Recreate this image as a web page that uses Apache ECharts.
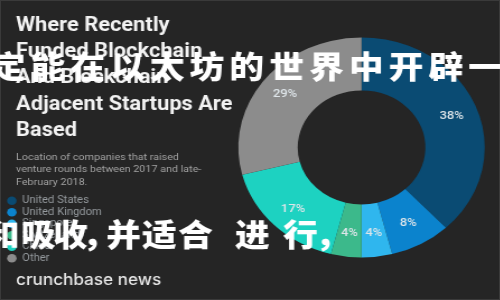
<!DOCTYPE html>
<html>
<head>
<meta charset="utf-8">
<script src="https://cdn.jsdelivr.net/npm/echarts@6/dist/echarts.min.js"></script>
<style>
html,body{margin:0;padding:0;background:#252525;}
#wrap{position:relative;width:500px;height:300px;overflow:hidden;background:#252525;box-shadow:inset 0 0 0 1px #3a3a3a;}
#c{position:absolute;left:0;top:0;width:446.43px;height:300px;transform:scaleX(1.12);transform-origin:0 0;}
</style>
</head>
<body>
<div id="wrap"><div id="c"></div></div>
<script>
var categories = ['United States', 'United Kingdom', 'Singapore', 'Switzerland', 'China', 'Other'];
var shares = [38, 8, 4, 4, 17, 29];
var colors = ['#0a4b73', '#0b83cd', '#2fb6ee', '#3cb98b', '#1dd2c1', '#8c8c8c'];
var titleLines = ['Where Recently', 'Funded Blockchain', 'And Blockchain', 'Adjacent Startups Are', 'Based'];
var subtitleLines = ['Location of companies that raised', 'venture rounds between 2017 and late-', 'February 2018.'];
var brand = 'crunchbase news';
var watermark1 = '定能在以太坊的世界中开辟一';
var watermark2 = ['和', '吸', '收', '，', '并', '适', '合', '进', '行', '，'];

var S = 1.12;
var wm2Left = [-15, 21, 53, 82, 106, 142, 178, 235, 283, 315];

var graphics = [];
graphics.push({
  type: 'text', left: 14.3, top: 13, z: 10,
  style: { text: titleLines.join('\n'), fill: '#f2f2f2', font: 'bold 19.5px Roboto, "Liberation Sans", sans-serif', lineHeight: 26.2 }
});
graphics.push({
  type: 'text', left: 14.3, top: 151, z: 10,
  style: { text: subtitleLines.join('\n'), fill: '#a3a3a3', font: '9.6px Roboto, "Liberation Sans", sans-serif', lineHeight: 12.6 }
});
graphics.push({
  type: 'text', left: 14.3, top: 270.5, z: 10,
  style: { text: brand, fill: '#e8e8e8', font: '500 15.3px Inter, sans-serif', lineHeight: 20 }
});
for (var i = 0; i < watermark1.length; i++) {
  graphics.push({
    type: 'text', x: (8 + i * 39.8) / S, y: 66, z: 50,
    style: { text: watermark1[i], fill: '#ffffff', font: '900 31px "Noto Sans CJK SC", sans-serif', align: 'center', verticalAlign: 'middle' }
  });
}
for (var j = 0; j < watermark2.length; j++) {
  graphics.push({
    type: 'text', x: wm2Left[j] / S, y: 234, z: 50,
    style: { text: watermark2[j], fill: '#ffffff', font: '900 31px "Noto Sans CJK SC", sans-serif', align: 'left', verticalAlign: 'middle' }
  });
}

var chart = echarts.init(document.getElementById('c'), null, { renderer: 'canvas' });
chart.setOption({
  backgroundColor: 'transparent',
  animation: false,
  color: colors,
  legend: {
    orient: 'vertical', left: 6.3, top: 195.7, padding: 0,
    itemWidth: 8.5, itemHeight: 8.5, itemGap: 1.5, icon: 'circle',
    data: categories,
    textStyle: { color: '#959a9e', fontSize: 10, lineHeight: 8.5, fontFamily: 'Roboto, sans-serif' },
    selectedMode: false
  },
  graphic: graphics,
  series: [{
    type: 'pie',
    center: [322.8, 147.5],
    radius: [57, 110],
    startAngle: 90,
    clockwise: true,
    silent: true,
    label: {
      show: true, position: 'inside', formatter: '{c}%',
      color: '#dfe6ea', fontSize: 11.5, fontFamily: 'Roboto, "Liberation Sans", sans-serif', fontWeight: 500
    },
    labelLine: { show: false },
    itemStyle: { borderWidth: 0 },
    data: categories.map(function (n, k) { return { name: n, value: shares[k] }; })
  }]
});
</script>
</body>
</html>
